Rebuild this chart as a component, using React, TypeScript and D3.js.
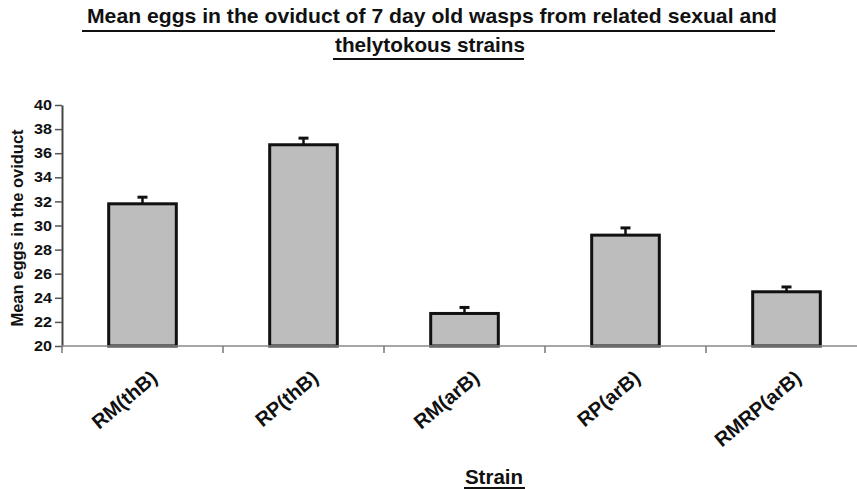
import React, {useEffect, useRef} from 'react';
import * as d3 from 'd3';

// values
const strains = ['RM(thB)', 'RP(thB)', 'RM(arB)', 'RP(arB)', 'RMRP(arB)'];
const meanEggs = [31.8, 36.7, 22.7, 29.2, 24.5];
const stdErr = [0.55, 0.55, 0.5, 0.6, 0.4];
const yTicks = [20, 22, 24, 26, 28, 30, 32, 34, 36, 38, 40];

const titleLines = [
  'Mean eggs in the oviduct of 7 day old wasps from related sexual and',
  'thelytokous strains'
];

const FONT = '"Liberation Sans", Arial, Helvetica, sans-serif';

export default function App() {
  const svgRef = useRef(null);

  useEffect(() => {
    const svg = d3.select(svgRef.current);
    svg.selectAll('*').remove();

    const left = 62;
    const top = 105;
    const bottom = 346;
    const step = 161;

    const x = d3.scaleBand()
      .domain(strains)
      .range([left, left + step * strains.length])
      .paddingInner(0.58)
      .paddingOuter(0.29);

    const y = d3.scaleLinear().domain([20, 40]).range([bottom, top]);

    // title
    const title = svg.append('g').attr('font-family', FONT).attr('font-weight', 'bold').attr('font-size', 21).attr('fill', '#111');
    title.append('text')
      .attr('x', 432).attr('y', 23)
      .attr('text-anchor', 'middle')
      .attr('textLength', 690).attr('lengthAdjust', 'spacingAndGlyphs')
      .text(titleLines[0]);
    title.append('line').attr('x1', 82).attr('x2', 775).attr('y1', 31).attr('y2', 31)
      .attr('stroke', '#111').attr('stroke-width', 2);
    title.append('text')
      .attr('x', 430).attr('y', 52)
      .attr('text-anchor', 'middle')
      .attr('textLength', 190).attr('lengthAdjust', 'spacingAndGlyphs')
      .text(titleLines[1]);
    title.append('line').attr('x1', 333).attr('x2', 524).attr('y1', 59).attr('y2', 59)
      .attr('stroke', '#111').attr('stroke-width', 2);

    // bars
    const data = strains.map((s, i) => ({s, v: meanEggs[i], e: stdErr[i]}));

    svg.append('g')
      .selectAll('rect')
      .data(data)
      .join('rect')
      .attr('x', d => x(d.s))
      .attr('y', d => y(d.v))
      .attr('width', x.bandwidth())
      .attr('height', d => bottom - y(d.v))
      .attr('fill', '#bdbdbd')
      .attr('stroke', '#111')
      .attr('stroke-width', 3);

    // error bars (upper only)
    const err = svg.append('g').attr('stroke', '#111');
    err.selectAll('line.stem')
      .data(data)
      .join('line')
      .attr('class', 'stem')
      .attr('x1', d => x(d.s) + x.bandwidth() / 2)
      .attr('x2', d => x(d.s) + x.bandwidth() / 2)
      .attr('y1', d => y(d.v))
      .attr('y2', d => y(d.v + d.e))
      .attr('stroke-width', 2.5);
    err.selectAll('line.cap')
      .data(data)
      .join('line')
      .attr('class', 'cap')
      .attr('x1', d => x(d.s) + x.bandwidth() / 2 - 5)
      .attr('x2', d => x(d.s) + x.bandwidth() / 2 + 5)
      .attr('y1', d => y(d.v + d.e))
      .attr('y2', d => y(d.v + d.e))
      .attr('stroke-width', 3);

    // y axis
    const yAxis = svg.append('g')
      .attr('transform', `translate(${left},0)`)
      .call(d3.axisLeft(y).tickValues(yTicks).tickSize(7).tickSizeOuter(0).tickPadding(3));
    yAxis.select('.domain').attr('stroke', '#444').attr('stroke-width', 2);
    yAxis.selectAll('.tick line').attr('stroke', '#555').attr('stroke-width', 1.5);
    yAxis.selectAll('.tick text')
      .attr('font-family', FONT).attr('font-weight', 'bold').attr('font-size', 14.5).attr('fill', '#111')
      .attr('textLength', 18).attr('lengthAdjust', 'spacingAndGlyphs');

    // x axis
    const xAxis = svg.append('g');
    xAxis.append('line')
      .attr('x1', left).attr('x2', x.range()[1])
      .attr('y1', bottom).attr('y2', bottom)
      .attr('stroke', '#888').attr('stroke-width', 1.5);
    xAxis.selectAll('line.tick')
      .data(d3.range(strains.length + 1))
      .join('line')
      .attr('class', 'tick')
      .attr('x1', i => x.range()[0] + i * x.step())
      .attr('x2', i => x.range()[0] + i * x.step())
      .attr('y1', bottom).attr('y2', bottom + 7)
      .attr('stroke', '#777').attr('stroke-width', 1.5);
    xAxis.selectAll('text')
      .data(strains)
      .join('text')
      .attr('transform', s => `translate(${x(s) + x.bandwidth() / 2 + 16},${380}) rotate(-40)`)
      .attr('text-anchor', 'end')
      .attr('font-family', FONT).attr('font-weight', 'bold').attr('font-size', 20).attr('fill', '#111')
      .text(s => s);

    // axis titles
    svg.append('text')
      .attr('transform', 'translate(23,228) rotate(-90)')
      .attr('text-anchor', 'middle')
      .attr('font-family', FONT).attr('font-weight', 'bold').attr('font-size', 16.5).attr('fill', '#111')
      .text('Mean eggs in the oviduct');

    svg.append('text')
      .attr('x', 494).attr('y', 484)
      .attr('text-anchor', 'middle')
      .attr('font-family', FONT).attr('font-weight', 'bold').attr('font-size', 20.5).attr('fill', '#111')
      .text('Strain');
    svg.append('line').attr('x1', 464).attr('x2', 525).attr('y1', 488).attr('y2', 488)
      .attr('stroke', '#111').attr('stroke-width', 2);
  }, []);

  return (
    <svg ref={svgRef} width={857} height={489}
      style={{position: 'absolute', left: 0, top: 0, background: '#fff'}}></svg>
  );
}
